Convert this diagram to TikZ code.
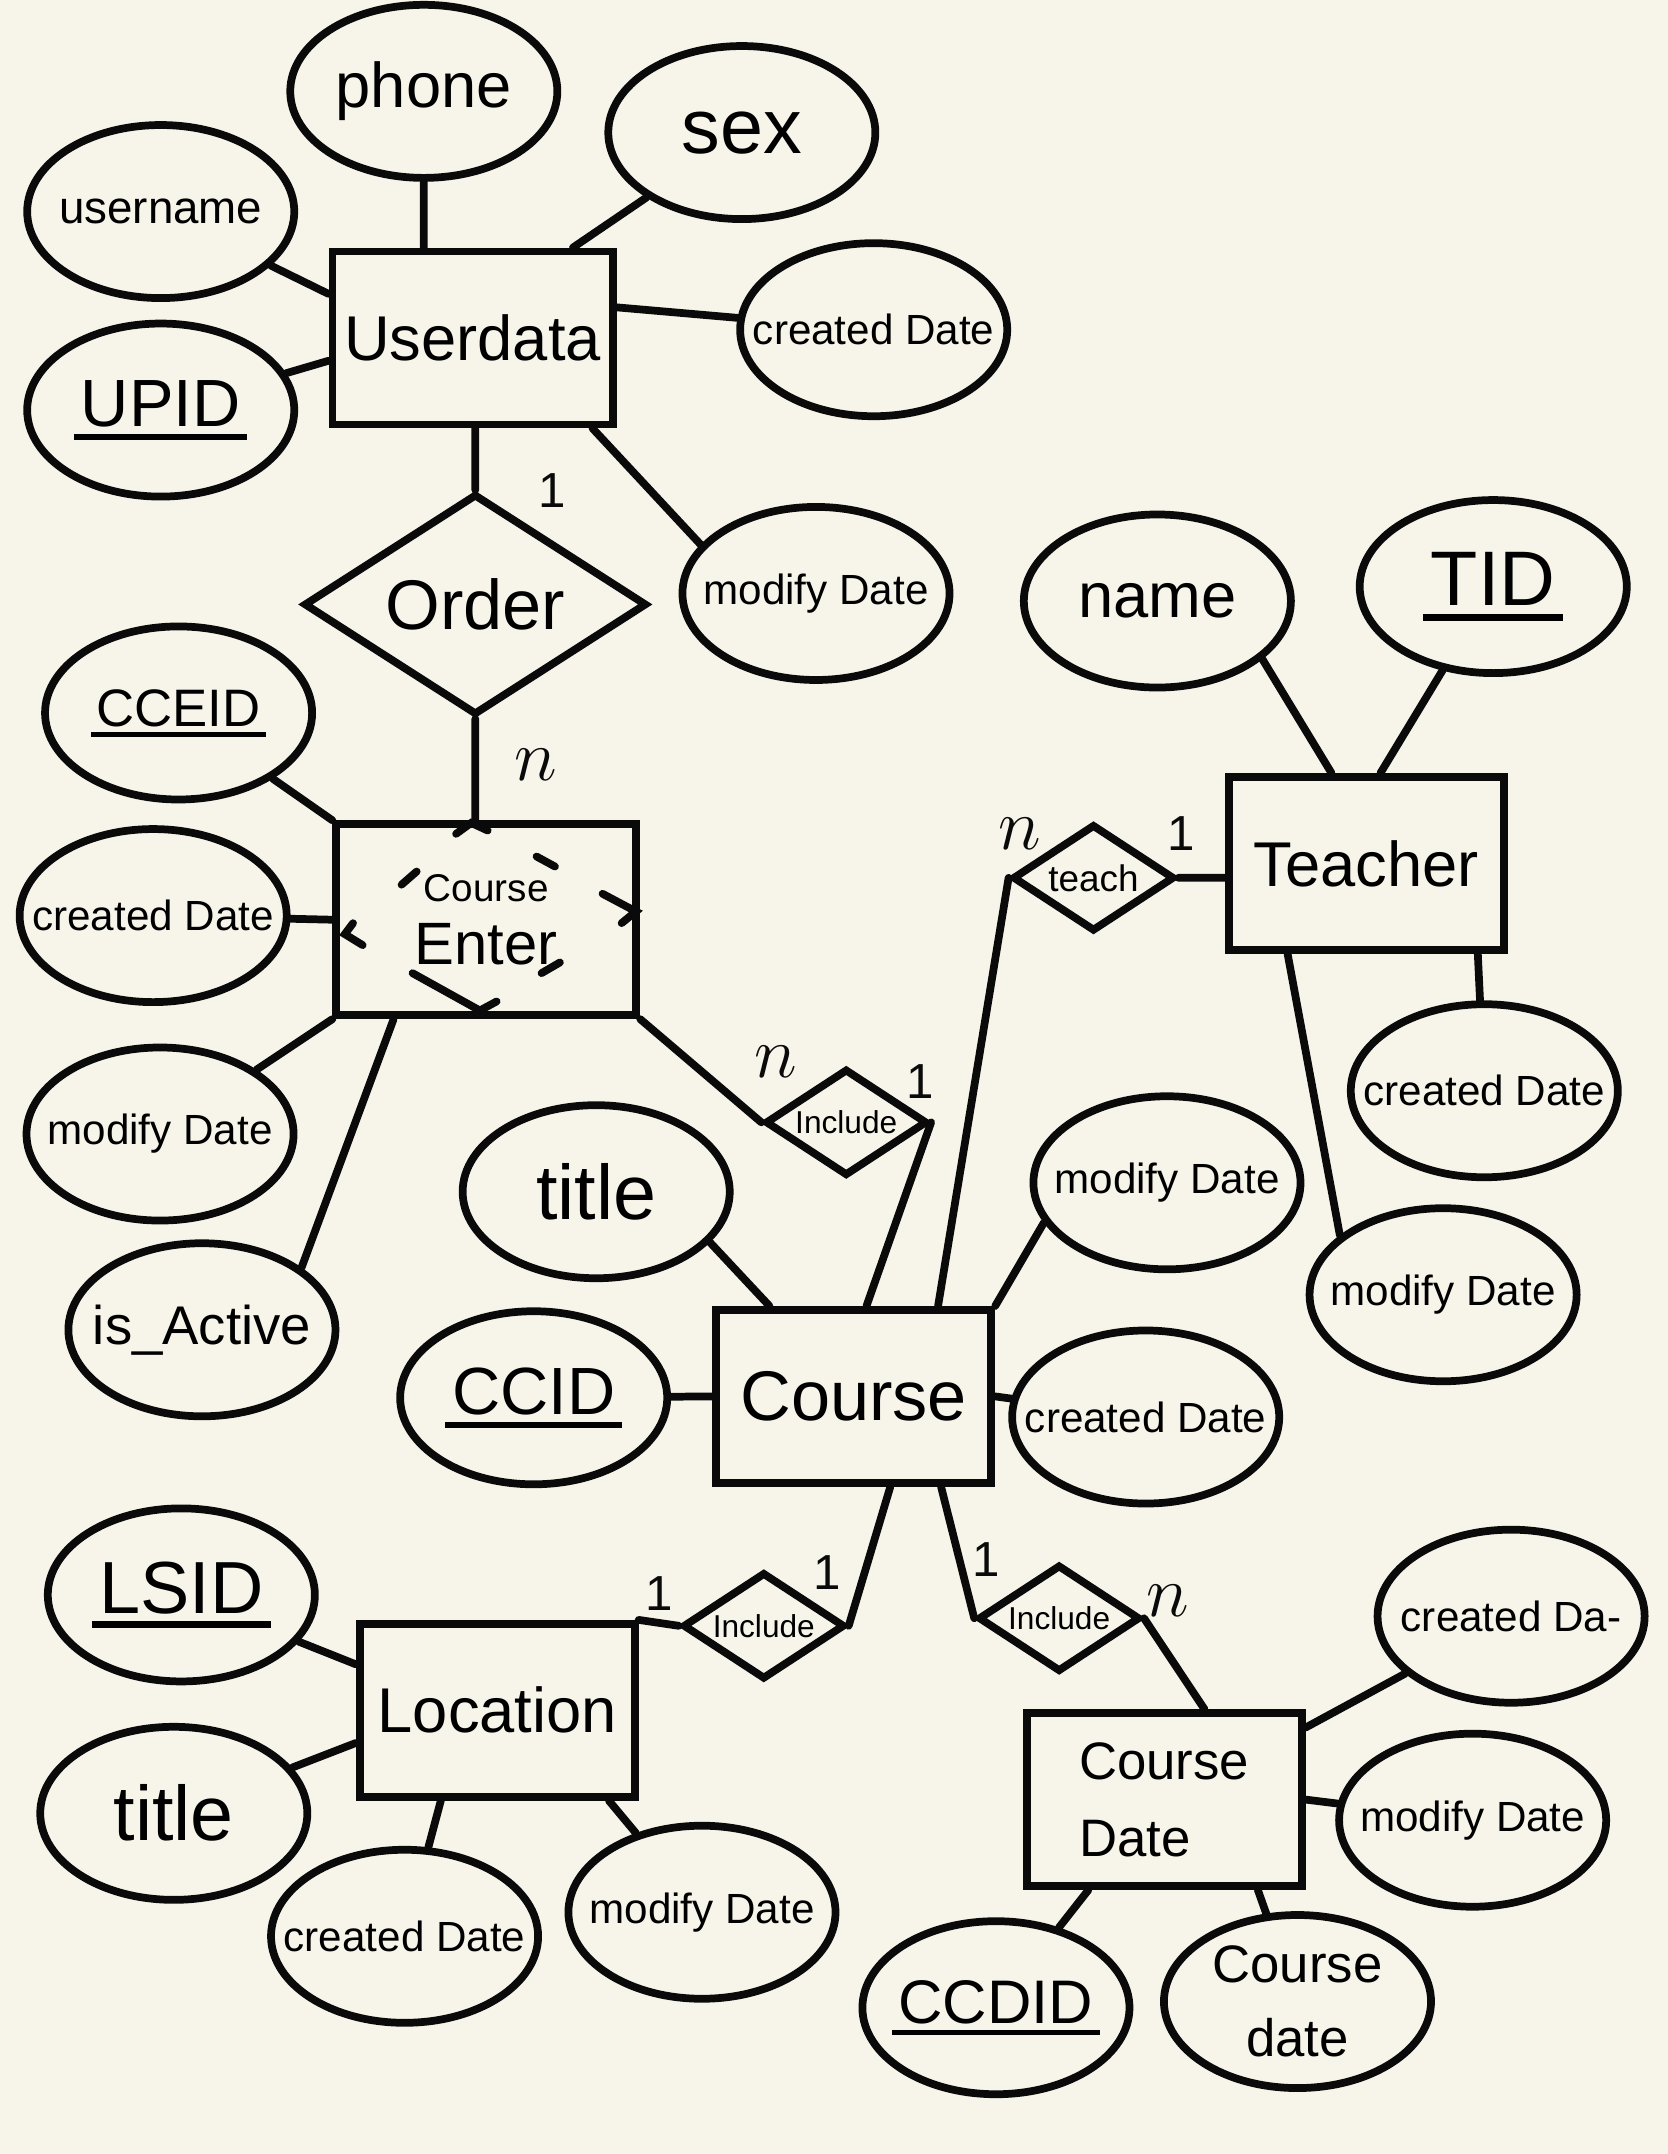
\documentclass[tikz,border=0pt]{standalone}
\usepackage{fontspec}
\setmainfont{Liberation Sans}
\usepackage{tikz}
\usetikzlibrary{shapes.geometric}
\definecolor{paper}{HTML}{F7F5EA}
\definecolor{ink}{HTML}{0A0A0A}
\newcommand\erfont[1]{\fontsize{#1}{#1}\selectfont}
\newsavebox\keybox
\newcommand\keyul[1]{\sbox\keybox{#1}\rlap{\kern-0.1em\rule[-0.2em]{\dimexpr\wd\keybox+0.2em\relax}{0.09em}}\usebox\keybox}
\tikzset{
  entity/.style={rectangle, draw=ink, line width=2.2pt, minimum width=2.75cm, minimum height=1.73cm, font=\erfont{18pt}},
  attr/.style={ellipse, draw=ink, line width=2.2pt, minimum width=2.67cm, minimum height=1.73cm, inner xsep=-0.6cm, inner ysep=0pt, font=\erfont{12pt}},
  rel/.style={diamond, draw=ink, line width=2.2pt, aspect=1.5, inner sep=0pt, minimum width=1.62cm, minimum height=1.07cm, font=\erfont{9pt}},
  card/.style={text=ink, font=\erfont{14pt}},
  cardn/.style={text=ink, font=\erfont{20pt}},
  link/.style={draw=ink, line width=2.2pt, line cap=round},
}

\begin{document}
\begin{tikzpicture}[x=0.01374cm, y=-0.01374cm]
  \useasboundingbox (0,0) rectangle (1214,1568);
  \fill[paper] (0,0) rectangle (1214,1568);

  % entities
  \node[entity] (ud) at (344,246) {Userdata};
  \node[entity, minimum width=3cm, minimum height=1.91cm, align=center] (ce) at (354,669.5) {\erfont{11pt}Course\\\erfont{17pt}Enter};
  \node[entity] (teacher) at (994.5,628.5) {Teacher};
  \node[entity, font=\erfont{20pt}] (course) at (621.5,1016.5) {Course};
  \node[entity] (loc) at (362,1245) {Location};
  \node[entity, font=\erfont{15pt}, align=left] (cdate) at (847.5,1310) {Course\\[7pt]Date};

  % relationships
  \node[rel, minimum width=3.43cm, minimum height=2.21cm, font=\erfont{20pt}] (order) at (346,440) {Order};
  \node[rel, font=\erfont{10.5pt}] (teach) at (796,639) {teach};
  \node[rel] (inc1) at (616,817) {Include};
  \node[rel] (inc2) at (556,1183.5) {Include};
  \node[rel] (inc3) at (771,1178) {Include};

  % attributes of Userdata
  \node[attr, font=\erfont{18pt}] (phone) at (308.5,66.5) {phone};
  \node[attr, font=\erfont{22pt}] (sex) at (540,96.5) {sex};
  \node[attr, font=\erfont{13pt}] (username) at (117,154) {username};
  \node[attr, font=\erfont{19pt}] (upid) at (117,298.5) {\keyul{UPID}};
  \node[attr] (cd1) at (636,240) {created Date};
  \node[attr] (md1) at (594,432) {modify Date};

  % attributes of Teacher
  \node[attr, font=\erfont{18pt}] (name) at (842.5,437.5) {name};
  \node[attr, font=\erfont{22pt}] (tid) at (1087,427) {\keyul{TID}};
  \node[attr] (cd4) at (1080.5,794) {created Date};
  \node[attr] (md4) at (1050.5,942.5) {modify Date};

  % attributes of Course Enter
  \node[attr, font=\erfont{15pt}] (cceid) at (130,519) {\keyul{CCEID}};
  \node[attr] (cd2) at (111.5,666.5) {created Date};
  \node[attr] (md2) at (116.5,825.5) {modify Date};
  \node[attr, font=\erfont{15.5pt}] (isact) at (147,968) {is\_Active};

  % attributes of Course
  \node[attr, font=\erfont{22pt}] (title1) at (434,867.5) {title};
  \node[attr, font=\erfont{19pt}] (ccid) at (388.5,1017.5) {\keyul{CCID}};
  \node[attr] (md3) at (849.5,861) {modify Date};
  \node[attr] (cd3) at (834,1031.5) {created Date};

  % attributes of Location
  \node[attr, font=\erfont{21pt}] (lsid) at (132,1161) {\keyul{LSID}};
  \node[attr, font=\erfont{22pt}] (title2) at (126.5,1320) {title};
  \node[attr] (cd5) at (294.5,1409.5) {created Date};
  \node[attr] (md5) at (511,1392) {modify Date};

  % attributes of Course Date
  \node[attr] (cd6) at (1100,1176.5) {created Da-};
  \node[attr] (md6) at (1072,1325) {modify Date};
  \node[attr, font=\erfont{17.5pt}] (ccdid) at (725,1461.5) {\keyul{CCDID}};
  \node[attr, font=\erfont{15pt}, align=center] (cdd) at (944.5,1457) {Course\\[6pt]date};

  % cardinalities
  \node[card] (k1) at (402,357) {1};
  \node[cardn] (k2) at (390,557) {$n$};
  \node[cardn] (k3) at (742,607) {$n$};
  \node[card] (k4) at (860,607) {1};
  \node[cardn] (k5) at (565,773) {$n$};
  \node[card] (k6) at (670,787) {1};
  \node[card] (k7) at (480,1160) {1};
  \node[card] (k8) at (602,1145) {1};
  \node[card] (k9) at (718,1135) {1};
  \node[cardn] (k10) at (850,1165) {$n$};

  % dashed diamond inside Course Enter
  \draw[link] (332,607) -- (343,599) -- (355,604.6);
  \draw[link] (292.3,644) -- (303.3,634.4);
  \draw[link] (390.6,623.5) -- (404,630.8);
  \draw[link] (438.6,650.6) -- (462.9,663.5) -- (452.5,672);
  \draw[link] (257,672) -- (251,680) -- (264,688);
  \draw[link] (394.2,708.4) -- (407.6,700.6);
  \draw[link] (300.3,708.4) -- (349.3,735.6) -- (361.5,729);

  % connectors
  \draw[link]
    (phone) -- (phone |- ud.north)
    (sex) -- (ud.42)
    (username) -- (ud.163)
    (upid) -- (ud.189)
    (cd1) -- (ud.12)
    (md1.157) -- (ud.-37)
    (order.north) -- (order.north |- ud.south)
    (order.south) -- (order.south |- ce.north)
    (cceid) -- (ce.north west)
    (cd2) -- (ce.west)
    (md2) -- (ce.south west)
    (isact.32) -- (ce.227)
    (ce.south east) -- (inc1.west)
    (inc1.east) -- (course.82)
    (teach.west) -- (course.47)
    (teach.east) -- (teach.east -| teacher.west)
    (name.-29) -- (teacher.111)
    (tid) -- (teacher.81)
    (cd4) -- (teacher.-39)
    (md4.150) -- (teacher.229)
    (title1.-24) -- (course.133)
    (ccid) -- (course.west)
    (md3.198) -- (course.north east)
    (cd3) -- (course.east)
    (course.-68) -- (inc2.east)
    (loc.north east) -- (inc2.west)
    (course.-46) -- (inc3.west)
    (inc3.east) -- (cdate.66)
    (lsid) -- (loc.162)
    (title2) -- (loc.193)
    (cd5) -- (loc.238)
    (md5) -- (loc.-39)
    (cd6) -- (cdate.27)
    (md6) -- (cdate.east)
    (ccdid) -- (cdate.230)
    (cdd) -- (cdate.-44);
\end{tikzpicture}
\end{document}
